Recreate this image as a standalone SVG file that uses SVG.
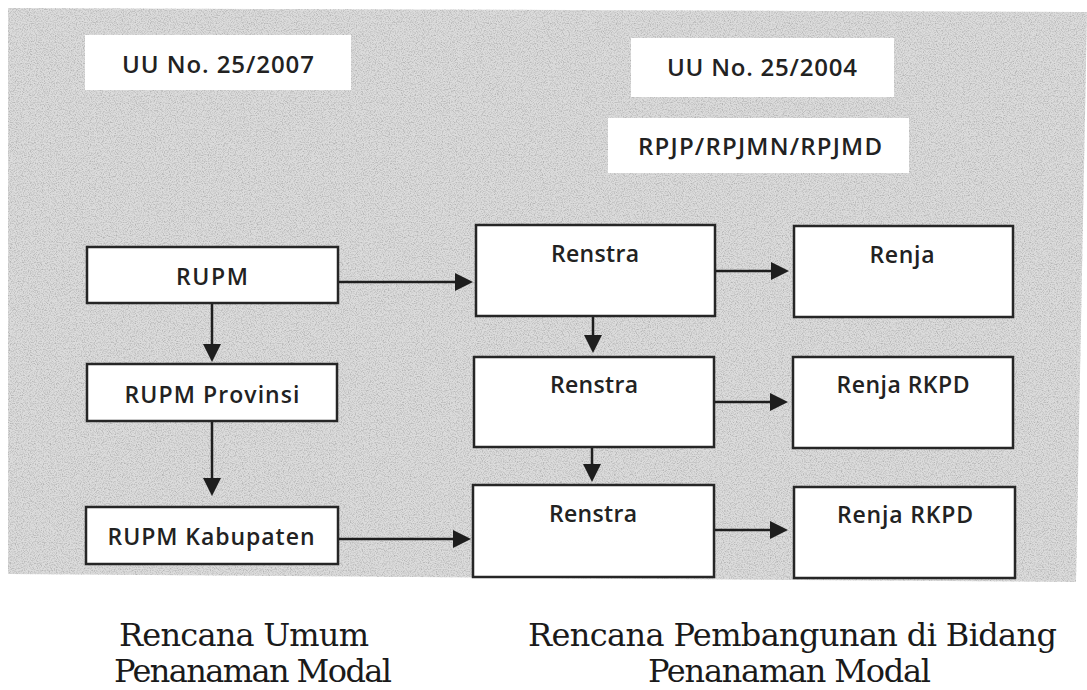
<svg xmlns="http://www.w3.org/2000/svg" width="1087" height="690" viewBox="0 0 1087 690">
  <style>
    .box { fill: #ffffff; stroke: #262626; stroke-width: 2.5; }
    .label { fill: #ffffff; stroke: none; }
    .t { font-family: "Open Sans", "Liberation Sans", Arial, sans-serif; font-size: 23px; font-weight: 600; fill: #222222; text-anchor: middle; }
    .h { font-family: "Open Sans", "Liberation Sans", Arial, sans-serif; font-size: 24px; font-weight: 600; fill: #222222; text-anchor: middle; }
    .cap { font-family: "DejaVu Serif", "Liberation Serif", serif; font-size: 32px; fill: #1a1a1a; }
    .edge { fill: none; stroke: #1e1e1e; stroke-width: 2.5; marker-end: url(#arr); }
  </style>
  <defs>
    <marker id="arr" markerUnits="userSpaceOnUse" markerWidth="20" markerHeight="20" refX="10" refY="9" orient="auto">
      <path d="M0,0 L18,9 L0,18 Z" fill="#1e1e1e"/>
    </marker>
    <filter id="grain" x="0" y="0" width="100%" height="100%">
      <feTurbulence type="fractalNoise" baseFrequency="0.85" numOctaves="2" seed="7" result="n"/>
      <feColorMatrix in="n" type="matrix" values="0 0 0 0 0.45  0 0 0 0 0.45  0 0 0 0 0.45  2.6 0 0 0 -1.1" result="g"/>
      <feComposite in="g" in2="SourceGraphic" operator="in" result="gm"/>
      <feMerge><feMergeNode in="SourceGraphic"/><feMergeNode in="gm"/></feMerge>
    </filter>
  </defs>

  <rect width="1087" height="690" fill="#ffffff"/>
  <polygon id="panel" points="8,8 1087,12 1076,582 8,574" fill="#dcdcdc" filter="url(#grain)"/>

  <g id="label-uu2007">
    <rect class="label" x="85" y="35" width="266" height="55"/>
    <text class="h" x="218" y="73" textLength="192">UU No. 25/2007</text>
  </g>
  <g id="label-uu2004">
    <rect class="label" x="631" y="38" width="263" height="59"/>
    <text class="h" x="762" y="76" textLength="190">UU No. 25/2004</text>
  </g>
  <g id="label-rpjp">
    <rect class="label" x="608" y="118" width="301" height="55"/>
    <text class="h" x="760" y="155" textLength="244">RPJP/RPJMN/RPJMD</text>
  </g>

  <g id="connectors">
    <path class="edge" d="M338,282 H465"/>
    <path class="edge" d="M212,303 V354"/>
    <path class="edge" d="M212,421 V488"/>
    <path class="edge" d="M338,539 H463"/>
    <path class="edge" d="M715,271 H781"/>
    <path class="edge" d="M593,316 V345"/>
    <path class="edge" d="M714,402 H780"/>
    <path class="edge" d="M592,447 V474"/>
    <path class="edge" d="M714,530 H780"/>
  </g>

  <g id="node-rupm">
    <rect class="box" x="87" y="247" width="251" height="56"/>
    <text class="t" x="212" y="285" textLength="72">RUPM</text>
  </g>
  <g id="node-rupm-provinsi">
    <rect class="box" x="87" y="364" width="250" height="57"/>
    <text class="t" x="212" y="403" textLength="175">RUPM Provinsi</text>
  </g>
  <g id="node-rupm-kabupaten">
    <rect class="box" x="86" y="507" width="252" height="57"/>
    <text class="t" x="211" y="545" textLength="207">RUPM Kabupaten</text>
  </g>
  <g id="node-renstra-1">
    <rect class="box" x="476" y="225" width="239" height="91"/>
    <text class="t" x="595" y="262" textLength="88">Renstra</text>
  </g>
  <g id="node-renstra-2">
    <rect class="box" x="474" y="357" width="240" height="90"/>
    <text class="t" x="594" y="393" textLength="88">Renstra</text>
  </g>
  <g id="node-renstra-3">
    <rect class="box" x="473" y="485" width="241" height="92"/>
    <text class="t" x="593" y="522" textLength="88">Renstra</text>
  </g>
  <g id="node-renja">
    <rect class="box" x="794" y="226" width="219" height="91"/>
    <text class="t" x="902" y="263" textLength="65">Renja</text>
  </g>
  <g id="node-renja-rkpd-1">
    <rect class="box" x="793" y="357" width="220" height="91"/>
    <text class="t" x="903" y="393" textLength="133">Renja RKPD</text>
  </g>
  <g id="node-renja-rkpd-2">
    <rect class="box" x="794" y="487" width="221" height="91"/>
    <text class="t" x="905" y="523" textLength="136">Renja RKPD</text>
  </g>

  <g id="caption-left">
    <text class="cap" x="119" y="646" textLength="250">Rencana Umum</text>
    <text class="cap" x="114" y="682" textLength="278">Penanaman Modal</text>
  </g>
  <g id="caption-right">
    <text class="cap" x="528" y="646" textLength="529">Rencana Pembangunan di Bidang</text>
    <text class="cap" x="648" y="682" textLength="283">Penanaman Modal</text>
  </g>
</svg>
